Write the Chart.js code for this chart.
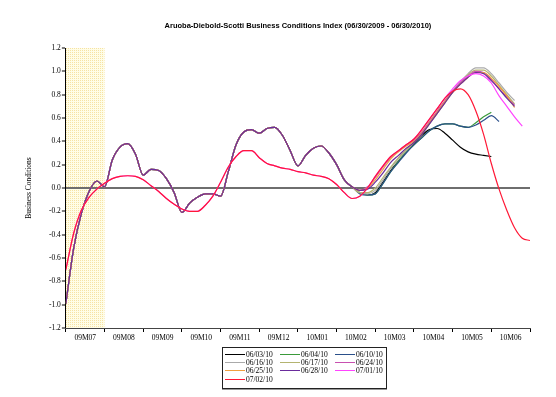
<!DOCTYPE html>
<html>
<head>
<meta charset="utf-8">
<script src="https://cdn.jsdelivr.net/npm/chart.js@4.4.0/dist/chart.umd.min.js"></script>
<style>
  html, body { margin: 0; padding: 0; background: #fff; }
  #wrap { position: relative; width: 556px; height: 397px; }
  #legend {
    position: absolute; left: 222px; top: 347px; width: 160px;
    border: 1px solid #222; box-shadow: 0 1px 0 #999;
    padding: 2px 1px 5px 2px;
    display: grid; grid-template-columns: 55px 55px 52px;
    font: 7.5px "Liberation Serif", serif; color: #000;
  }
  #legend .item { display: flex; align-items: center; height: 8.3px; white-space: nowrap; }
  #legend .swatch { width: 20px; height: 0; border-top: 1.2px solid; margin-right: 1px; }
</style>
</head>
<body>
<div id="wrap">
  <canvas id="adsChart" width="556" height="397"></canvas>
  <div id="legend"></div>
</div>
<script>
// month labels, one per month column
const monthLabels = ["09M07", "09M08", "09M09", "09M10", "09M11", "09M12",
                     "10M01", "10M02", "10M03", "10M04", "10M05", "10M06"];
// shaded column (in months from 06/30/2009)
const shadeFrom = 0;
const shadeTo = 1;
// values are read every 0.2 month
const step = 0.2;

// shared history, 0.0 .. 7.4 months
const histOld = [-0.99, -0.52, -0.22, -0.03, 0.06, 0.01, 0.24, 0.35, 0.38, 0.29,
                 0.11, 0.16, 0.15, 0.08, -0.04, -0.21, -0.13, -0.08, -0.05, -0.05,
                 -0.07, 0.14, 0.37, 0.48, 0.50, 0.47, 0.51, 0.52, 0.45, 0.32,
                 0.19, 0.28, 0.34, 0.36, 0.30, 0.20, 0.07, 0.01];
const histNew = [-0.70, -0.39, -0.19, -0.08, -0.01, 0.04, 0.08, 0.10, 0.105, 0.10,
                 0.07, 0.02, -0.03, -0.09, -0.14, -0.18, -0.20, -0.20, -0.15, -0.07,
                 0.05, 0.18, 0.27, 0.32, 0.32, 0.26, 0.21, 0.19, 0.17, 0.16,
                 0.14, 0.13, 0.11, 0.10, 0.08, 0.03, -0.04, -0.09];

// vintage tails, from 7.6 months on
const tail0603 = [-0.04, -0.06, -0.04, 0.05, 0.15, 0.23, 0.31, 0.38, 0.45, 0.50, 0.51, 0.47, 0.41, 0.35, 0.31, 0.29, 0.28, 0.27];
const tail0604 = [-0.04, -0.06, -0.05, 0.04, 0.14, 0.23, 0.31, 0.37, 0.43, 0.49, 0.53, 0.55, 0.55, 0.53, 0.52, 0.56, 0.61, 0.65];
const tail0610 = [-0.05, -0.06, -0.05, 0.04, 0.14, 0.22, 0.30, 0.37, 0.43, 0.49, 0.53, 0.55, 0.55, 0.53, 0.52, 0.54, 0.58, 0.62, 0.57];
const tail0616 = [-0.04, -0.05, -0.02, 0.07, 0.17, 0.25, 0.32, 0.39, 0.46, 0.55, 0.64, 0.74, 0.83, 0.91, 0.98, 1.03, 1.03, 0.98, 0.90, 0.82, 0.75];
const tail0617 = [-0.04, -0.04, 0.00, 0.09, 0.18, 0.26, 0.33, 0.39, 0.46, 0.55, 0.64, 0.73, 0.82, 0.90, 0.97, 1.01, 1.01, 0.96, 0.88, 0.80, 0.72];
const tail0624 = [-0.02, 0.01, 0.09, 0.18, 0.26, 0.32, 0.37, 0.41, 0.48, 0.57, 0.66, 0.75, 0.83, 0.90, 0.96, 1.00, 0.99, 0.93, 0.85, 0.78, 0.71];
const tail0625 = [-0.02, 0.00, 0.07, 0.16, 0.25, 0.31, 0.36, 0.40, 0.47, 0.56, 0.65, 0.74, 0.82, 0.89, 0.95, 0.99, 0.99, 0.94, 0.87, 0.79, 0.69];
const tail0628 = [-0.02, -0.01, 0.05, 0.13, 0.22, 0.28, 0.34, 0.39, 0.46, 0.55, 0.64, 0.73, 0.82, 0.89, 0.95, 0.99, 0.98, 0.92, 0.85, 0.77, 0.70];
const tail0701 = [-0.07, 0.00, 0.10, 0.19, 0.27, 0.32, 0.37, 0.42, 0.50, 0.59, 0.68, 0.77, 0.85, 0.92, 0.96, 0.98, 0.96, 0.90, 0.79, 0.70, 0.61, 0.53];
const tail0702 = [-0.07, 0.00, 0.10, 0.19, 0.27, 0.32, 0.37, 0.42, 0.50, 0.59, 0.68, 0.77, 0.83, 0.85, 0.80, 0.66, 0.46, 0.21, -0.01, -0.19, -0.34, -0.43, -0.45];

const vintages = [
  { label: "06/03/10", color: "#000000", values: histOld.concat(tail0603) },
  { label: "06/04/10", color: "#3a9a3a", values: histOld.concat(tail0604) },
  { label: "06/10/10", color: "#2a4f8a", values: histOld.concat(tail0610) },
  { label: "06/16/10", color: "#aaaaaa", values: histOld.concat(tail0616) },
  { label: "06/17/10", color: "#b4b470", values: histOld.concat(tail0617) },
  { label: "06/24/10", color: "#c850b0", values: histOld.concat(tail0624) },
  { label: "06/25/10", color: "#f0a040", values: histOld.concat(tail0625) },
  { label: "06/28/10", color: "#6a2c9c", values: histOld.concat(tail0628) },
  { label: "07/01/10", color: "#ff44ff", values: histNew.concat(tail0701) },
  { label: "07/02/10", color: "#ff1836", values: histNew.concat(tail0702) },
];

document.addEventListener("DOMContentLoaded", () => {
  const ctx = document.getElementById("adsChart").getContext("2d");

  // dotted pale yellow fill for the shaded column
  const tile = document.createElement("canvas");
  tile.width = 2; tile.height = 2;
  const tctx = tile.getContext("2d");
  tctx.fillStyle = "#fffde6";
  tctx.fillRect(0, 0, 2, 2);
  tctx.fillStyle = "#f6e2a4";
  tctx.fillRect(0, 0, 1, 1);
  const shadePattern = ctx.createPattern(tile, "repeat");

  const shadeBand = {
    id: "shadeBand",
    beforeDraw(chart) {
      const { ctx, chartArea, scales } = chart;
      const x0 = scales.x.getPixelForValue(shadeFrom);
      const x1 = scales.x.getPixelForValue(shadeTo);
      ctx.save();
      ctx.fillStyle = shadePattern;
      ctx.fillRect(x0, chartArea.top, x1 - x0, chartArea.bottom - chartArea.top);
      ctx.restore();
    }
  };

  const datasets = vintages.map((v, i) => ({
    label: v.label,
    data: v.values.map((y, k) => ({ x: k * step, y: y })),
    borderColor: v.color,
    borderWidth: 1.2,
    pointRadius: 0,
    fill: false,
    cubicInterpolationMode: "monotone",
    order: vintages.length - i,
  }));

  const serif = { family: "'Liberation Serif', 'Times New Roman', serif", size: 7.5 };

  new Chart(ctx, {
    type: "line",
    data: { datasets: datasets },
    options: {
      responsive: false,
      animation: false,
      devicePixelRatio: 1,
      layout: { padding: { top: 21, left: 25, right: 26, bottom: 52 } },
      plugins: {
        legend: { display: false },
        tooltip: { enabled: false },
        title: {
          display: true,
          fullSize: false,
          text: "Aruoba-Diebold-Scotti Business Conditions Index (06/30/2009 - 06/30/2010)",
          color: "#000",
          font: { family: "'Liberation Sans', Arial, sans-serif", size: 7.5, weight: "bold" },
          padding: { top: 0, bottom: 18 },
        },
      },
      scales: {
        x: {
          type: "linear",
          min: 0,
          max: 12,
          border: { color: "#444", width: 1 },
          grid: {
            drawOnChartArea: false,
            tickLength: 4,
            tickWidth: 1,
            tickColor: (c) => (Math.abs(c.tick.value % 1) < 1e-6 ? "#000" : "rgba(0,0,0,0)"),
          },
          ticks: {
            stepSize: 0.5,
            autoSkip: false,
            maxRotation: 0,
            padding: 2,
            color: "#000",
            font: serif,
            callback: (v) => (Math.abs(v % 1 - 0.5) < 1e-6 ? monthLabels[Math.floor(v)] : ""),
          },
        },
        y: {
          min: -1.2,
          max: 1.2,
          border: { color: "#000", width: 1 },
          grid: {
            tickLength: 4,
            tickWidth: 1,
            tickColor: "#000",
            color: (c) => (Math.abs(c.tick.value) < 1e-9 ? "#6e6e6e" : "rgba(0,0,0,0)"),
            lineWidth: (c) => (Math.abs(c.tick.value) < 1e-9 ? 2 : 0),
          },
          ticks: {
            stepSize: 0.2,
            padding: 1,
            color: "#000",
            font: serif,
            callback: (v) => (Math.abs(v) < 1e-9 ? "0.0" : v.toFixed(1)),
          },
          title: {
            display: true,
            text: "Business Conditions",
            color: "#000",
            font: serif,
            padding: { top: 0, bottom: 14 },
          },
        },
      },
    },
    plugins: [shadeBand],
  });

  // legend box below the chart, three columns
  const legend = document.getElementById("legend");
  vintages.forEach((v) => {
    const item = document.createElement("div");
    item.className = "item";
    const sw = document.createElement("span");
    sw.className = "swatch";
    sw.style.borderTopColor = v.color;
    const txt = document.createElement("span");
    txt.textContent = v.label;
    item.appendChild(sw);
    item.appendChild(txt);
    legend.appendChild(item);
  });
});
</script>
</body>
</html>
